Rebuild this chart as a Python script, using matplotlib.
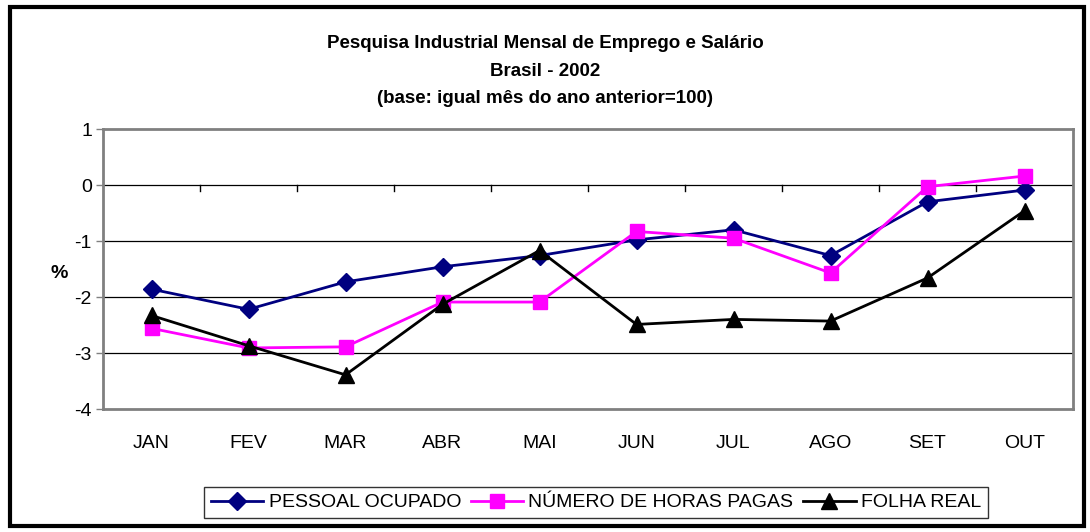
import matplotlib
matplotlib.use("Agg")
import matplotlib.pyplot as plt
from matplotlib.patches import Rectangle

plt.rcParams['font.family'] = ['Liberation Sans', 'DejaVu Sans']

# Dados (%)
meses = ['JAN', 'FEV', 'MAR', 'ABR', 'MAI', 'JUN', 'JUL', 'AGO', 'SET', 'OUT']
pessoal = [-1.86, -2.22, -1.73, -1.46, -1.26, -0.98, -0.80, -1.26, -0.30, -0.09]
horas = [-2.56, -2.91, -2.89, -2.09, -2.09, -0.83, -0.95, -1.57, -0.03, 0.16]
folha = [-2.33, -2.87, -3.39, -2.13, -1.17, -2.49, -2.40, -2.43, -1.66, -0.46]
yticks = [1, 0, -1, -2, -3, -4]

W, H = 1090, 532
fig = plt.figure(figsize=(W / 100, H / 100), dpi=100)
ax = fig.add_axes([103 / W, 1 - 409 / H, 970 / W, 280 / H])

# Borda externa do grafico
fig.patches.append(Rectangle((10 / W, 1 - 526 / H), 1074 / W, 519 / H,
                             transform=fig.transFigure, fill=False,
                             edgecolor='black', linewidth=3))

x = list(range(len(meses)))
ax.plot(x, pessoal, color='#000080', marker='D', markersize=9, linewidth=2,
        label='PESSOAL OCUPADO', zorder=3)
ax.plot(x, horas, color='#FF00FF', marker='s', markersize=10, linewidth=2,
        label='NÚMERO DE HORAS PAGAS', zorder=3)
ax.plot(x, folha, color='black', marker='^', markersize=11, linewidth=2,
        label='FOLHA REAL', zorder=4)

ax.set_xlim(-0.5, len(meses) - 0.5)
ax.set_ylim(-4, 1)
ax.set_yticks(yticks)
ax.set_yticklabels([str(v) for v in yticks], fontsize=14)
for v in yticks[1:-1]:
    ax.axhline(v, color='black', linewidth=0.9, zorder=1)

# eixo x cruza em 0, rótulos embaixo
ax.set_xticks(x)
ax.set_xticklabels(meses, fontsize=14)
ax.tick_params(axis='x', length=0, pad=19)
ax.tick_params(axis='y', length=5, width=1, color='#808080', pad=3)
for k in range(1, len(meses)):
    ax.plot([k - 0.5, k - 0.5], [0, -0.1], color='black', linewidth=1,
            zorder=2, clip_on=False)

for s in ax.spines.values():
    s.set_color('#808080')
    s.set_linewidth(2)

fig.text(59 / W, 1 - 273 / H, '%', fontsize=14, fontweight='bold',
         ha='center', va='center')

fig.text(0.5, 1 - 48 / H, 'Pesquisa Industrial Mensal de Emprego e Salário',
         ha='center', va='baseline', fontsize=13.5, fontweight='bold')
fig.text(0.5, 1 - 76 / H, 'Brasil - 2002', ha='center', va='baseline',
         fontsize=13.5, fontweight='bold')
fig.text(0.5, 1 - 103 / H, '(base: igual mês do ano anterior=100)', ha='center',
         va='baseline', fontsize=13.5, fontweight='bold')

leg = fig.legend(loc='center', bbox_to_anchor=(596 / W, 1 - 502.5 / H), ncol=3,
                 fontsize=14, frameon=True, fancybox=False, edgecolor='black',
                 handlelength=2.7, handletextpad=0.27, columnspacing=0.5,
                 borderpad=0.35, borderaxespad=0)
leg.get_frame().set_linewidth(1)

fig.savefig('out.png', dpi=100)
